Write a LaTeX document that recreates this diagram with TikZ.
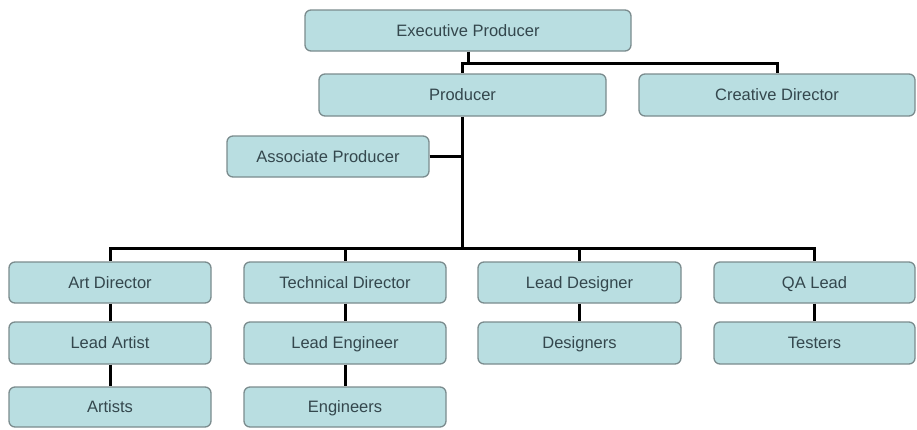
\documentclass[tikz,border=0pt]{standalone}
\usepackage{fontspec}
\setmainfont{Liberation Sans}
\definecolor{boxfill}{HTML}{B9DEE1}
\definecolor{boxline}{HTML}{7B8C8E}
\definecolor{boxtext}{HTML}{34474D}
\tikzset{
  orgbox/.style={draw=boxline, line width=1.3pt, fill=boxfill, rounded corners=6pt,
    text=boxtext, font=\fontsize{16.5}{19}\selectfont, anchor=center, inner sep=0pt,
    text height=13pt, text depth=1.5pt},
  link/.style={line width=3pt, black}
}
\newcommand{\orgnode}[6]{% name, x1, y1, x2, y2, text
  \node[orgbox, minimum width={#4-#2}, minimum height={#5-#3}] (#1) at ({(#2+#4)/2},{(#3+#5)/2}) {#6};}
\begin{document}
\begin{tikzpicture}[x=1pt,y=-1pt]
\useasboundingbox[fill=white] (0,0) rectangle (917,429);
\orgnode{exec}{305}{10}{631}{51}{Executive Producer}
\orgnode{prod}{319}{74}{606}{116}{Producer}
\orgnode{crea}{639}{74}{915}{116}{Creative Director}
\orgnode{assoc}{227}{136}{429}{177}{Associate Producer}
\orgnode{art}{9}{262}{211}{303}{Art Director}
\orgnode{tech}{244}{262}{446}{303}{Technical Director}
\orgnode{ldes}{478}{262}{681}{303}{Lead Designer}
\orgnode{qa}{714}{262}{915}{303}{QA Lead}
\orgnode{lart}{9}{322}{211}{364}{Lead Artist}
\orgnode{leng}{244}{322}{446}{364}{Lead Engineer}
\orgnode{dsg}{478}{322}{681}{364}{Designers}
\orgnode{tst}{714}{322}{915}{364}{Testers}
\orgnode{arts}{9}{387}{211}{427}{Artists}
\orgnode{engs}{244}{387}{446}{427}{Engineers}
\coordinate (top) at (468,63);
\coordinate (bus) at (462.5,248);
\coordinate (ap) at (462.5,156.5);
% executive to producer and creative director
\draw[link] (exec.south) -- (top) -| (prod.north);
\draw[link] (top) -| (crea.north);
% producer spine
\draw[link] (prod.south) -- (bus);
\draw[link] (assoc.east) -- (ap);
% bus
\draw[link] (bus) -| (art.north);
\draw[link] (bus) -| (tech.north);
\draw[link] (bus) -| (ldes.north);
\draw[link] (bus) -| (qa.north);
% columns
\draw[link] (art.south) -- (lart.north);
\draw[link] (lart.south) -- (arts.north);
\draw[link] (tech.south) -- (leng.north);
\draw[link] (leng.south) -- (engs.north);
\draw[link] (ldes.south) -- (dsg.north);
\draw[link] (qa.south) -- (tst.north);
\end{tikzpicture}
\end{document}
